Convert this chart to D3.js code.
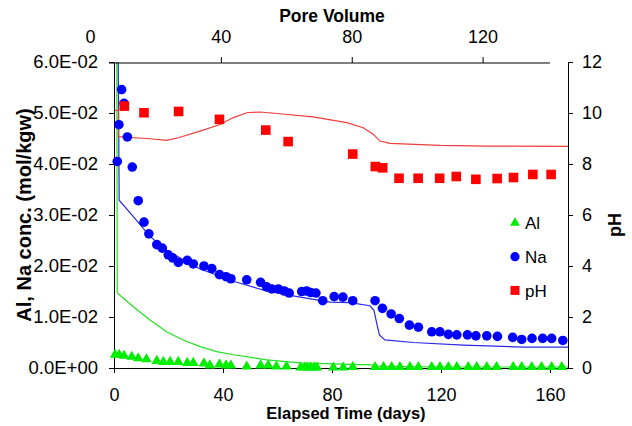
<!DOCTYPE html>
<html>
<head>
<meta charset="utf-8">
<script src="https://cdn.jsdelivr.net/npm/d3@7"></script>
<style>
  body { margin: 0; background: #fff; }
  svg { display: block; font-family: "Liberation Sans", Arial, sans-serif; }
</style>
</head>
<body>
<svg id="chart" width="632" height="426"></svg>
<script>
// measured Na (mol/kgw)
const naDays = [1.2, 1.8, 2.8, 3.7, 4.9, 6.7, 8.9, 11.0, 12.8, 15.7, 17.7, 19.9, 21.5, 23.6,
  26.9, 29.1, 33.0, 35.9, 38.7, 41.1, 42.9, 48.7, 53.8, 56.0, 57.9, 60.3, 62.5, 64.3,
  68.9, 70.7, 72.2, 74.1, 76.6, 80.8, 84.0, 87.6, 95.8, 98.5, 101.7, 104.7, 108.4, 111.7,
  116.6, 119.6, 122.7, 125.8, 129.7, 132.8, 136.8, 140.7, 146.3, 149.6, 153.4, 157.3, 160.6, 164.7];
const naConc = [0.0405, 0.0477, 0.0546, 0.0519, 0.0453, 0.0394, 0.0328, 0.0286, 0.0263, 0.0242, 0.0235, 0.0222, 0.0216, 0.0207,
  0.0211, 0.0204, 0.0200, 0.0195, 0.0183, 0.0179, 0.0175, 0.0173, 0.0168, 0.0159, 0.0155, 0.0155, 0.0151, 0.0147,
  0.0150, 0.0151, 0.0148, 0.0147, 0.0132, 0.0140, 0.0139, 0.0132, 0.0132, 0.0117, 0.0106, 0.0097, 0.0084, 0.0080,
  0.0071, 0.0071, 0.0066, 0.0065, 0.0065, 0.0063, 0.0063, 0.0062, 0.0060, 0.0056, 0.0058, 0.0058, 0.0058, 0.0054];

// measured Al (mol/kgw)
const alDays = [0.4, 1.9, 3.7, 6.5, 8.9, 11.9, 15.7, 18.1, 20.6, 23.6,
  26.9, 29.1, 33.0, 35.2, 38.7, 41.1, 42.9, 48.7, 53.8, 56.6,
  59.6, 63.3, 68.5, 69.9, 70.9, 72.2, 73.5, 74.5, 80.5, 84.1, 87.6,
  95.8, 98.9, 101.9, 104.9, 108.6, 111.7, 116.6, 119.6, 122.7, 125.8,
  130.0, 133.1, 136.8, 140.4, 146.5, 149.6, 153.3, 156.9, 160.6, 164.3];
const alConc = [0.0026, 0.0026, 0.0024, 0.0022, 0.0019, 0.0017, 0.0014, 0.0012, 0.0012, 0.0012,
  0.0010, 0.0010, 0.0009, 0.0005, 0.0007, 0.0005, 0.0005, 0.0003, 0.0005, 0.0005,
  0.0003, 0.0003, 0.0001, 0.0001, 0.0001, 0.0001, 0.0001, 0.0001, 0.0001, 0.0001, 0.0002,
  0.0002, 0.0002, 0.0002, 0.0002, 0.0002, 0.0002, 0.0002, 0.0002, 0.0002, 0.0002,
  0.0002, 0.0002, 0.0002, 0.0002, 0.0002, 0.0002, 0.0002, 0.0002, 0.0002, 0.0002];

// measured pH
const phDays = [3.8, 11.0, 23.7, 38.7, 55.7, 63.9, 87.6, 95.9, 98.6, 104.6, 111.6, 119.5, 125.6, 132.8, 140.6, 146.6, 153.7, 160.4];
const phValues = [10.27, 10.01, 10.06, 9.75, 9.33, 8.88, 8.39, 7.90, 7.85, 7.44, 7.44, 7.44, 7.51, 7.40, 7.43, 7.47, 7.59, 7.59];

// model curves
const naModelDays = [1.5, 1.9, 7.1, 13.2, 19.3, 25.4, 31.6, 43.8, 56.0, 68.3, 79.3, 86.6, 93.9, 95.4, 96.4, 97.4, 99.4, 109.8, 128.2, 150.2, 166.6];
const naModelConc = [0.065, 0.0329, 0.0297, 0.0258, 0.0231, 0.0212, 0.0194, 0.0170, 0.0151, 0.0139, 0.0129, 0.0128, 0.0122, 0.0113, 0.0088, 0.0065, 0.0055, 0.0050, 0.0045, 0.0041, 0.0041];
const alModelDays = [1.0, 1.2, 7.1, 13.2, 19.3, 25.4, 31.6, 37.7, 43.8, 56.0, 68.3, 86.6, 95.0, 97.5, 120, 166.6];
const alModelConc = [0.065, 0.0147, 0.0120, 0.0094, 0.0071, 0.0055, 0.0042, 0.0032, 0.0026, 0.0016, 0.0010, 0.0007, 0.0006, 0.0003, 0.0002, 0.0002];
const phModelDays = [0.3, 1.6, 1.6, 13.2, 19.3, 23.6, 31.6, 38.9, 43.8, 48.7, 53.6, 60.9, 73.1, 85.4, 91.5, 95.2, 97.6, 101.3, 119.6, 136.8, 166.6];
const phModelValues = [10.1, 10.1, 9.07, 8.99, 8.93, 9.03, 9.29, 9.55, 9.82, 10.01, 10.04, 9.97, 9.85, 9.62, 9.42, 9.16, 8.90, 8.81, 8.73, 8.70, 8.69];

// axis ticks
const dayTicks = [0, 40, 80, 120, 160];
const poreTicks = [0, 40, 80, 120];
const concTicks = [0, 0.01, 0.02, 0.03, 0.04, 0.05, 0.06];
const phTicks = [0, 2, 4, 6, 8, 10, 12];

const legendItems = [
  { name: "Al", shape: "triangle", color: "#00ee00" },
  { name: "Na", shape: "circle", color: "#0000ff" },
  { name: "pH", shape: "square", color: "#ff0000" },
];

const font = "Liberation Sans, Arial, sans-serif";
const plot = { left: 114, right: 568, top: 62, bottom: 368 };

const svg = d3.select("#chart");

const x = d3.scaleLinear().domain([0, 166.6]).range([plot.left, plot.right]);
const xPore = d3.scaleLinear().domain([0, 140.6]).range([90, 550]);
const y = d3.scaleLinear().domain([0, 0.06]).range([plot.bottom, plot.top]);
const yPh = d3.scaleLinear().domain([0, 12]).range([plot.bottom, plot.top]);

const sci = (d) => {
  if (d === 0) return "0.0E+00";
  const e = Math.floor(Math.log10(d) + 1e-9);
  const m = d / Math.pow(10, e);
  return m.toFixed(1) + "E" + (e < 0 ? "-" : "+") + String(Math.abs(e)).padStart(2, "0");
};

svg.append("defs").append("clipPath").attr("id", "clip")
  .append("rect")
  .attr("x", plot.left).attr("y", plot.top)
  .attr("width", plot.right - plot.left).attr("height", plot.bottom - plot.top);

// model lines
const zip = (a, b) => a.map((d, i) => [d, b[i]]);
const lines = svg.append("g").attr("clip-path", "url(#clip)").attr("fill", "none");

lines.append("path")
  .attr("d", d3.line().x((d) => x(d[0])).y((d) => y(d[1]))(zip(alModelDays, alModelConc)))
  .attr("stroke", "#22e022").attr("stroke-width", 1.2);
lines.append("path")
  .attr("d", d3.line().x((d) => x(d[0])).y((d) => y(d[1]))(zip(naModelDays, naModelConc)))
  .attr("stroke", "#2828e6").attr("stroke-width", 1.2);
lines.append("path")
  .attr("d", d3.line().x((d) => x(d[0])).y((d) => yPh(d[1]))(zip(phModelDays, phModelValues)))
  .attr("stroke", "#f03c3c").attr("stroke-width", 1.2);

// axes
const styleAxis = (g, size) => {
  g.attr("font-family", font).attr("font-size", size);
  g.selectAll("text").attr("fill", "#000");
  g.selectAll("line, path").attr("stroke", "#000");
};

svg.append("g")
  .attr("transform", `translate(${plot.left},0)`)
  .call(d3.axisLeft(y).tickValues(concTicks).tickFormat(sci).tickSize(5).tickSizeOuter(0).tickPadding(11))
  .call((g) => styleAxis(g, 18.5));

svg.append("g")
  .attr("transform", `translate(${plot.right},0)`)
  .call(d3.axisRight(yPh).tickValues(phTicks).tickFormat((d) => d).tickSize(5).tickSizeOuter(0).tickPadding(9))
  .call((g) => styleAxis(g, 18));

svg.append("g")
  .attr("transform", `translate(0,${plot.bottom})`)
  .call(d3.axisBottom(x).tickValues(dayTicks).tickSize(5).tickSizeOuter(0).tickPadding(15))
  .call((g) => styleAxis(g, 18));

svg.append("g")
  .attr("transform", `translate(0,${plot.top + 1})`)
  .call(d3.axisTop(xPore).tickValues(poreTicks).tickSize(6).tickSizeOuter(0).tickPadding(14))
  .call((g) => styleAxis(g, 18))
  .call((g) => g.select(".domain").remove())
  .call((g) => g.selectAll(".tick line").filter((d) => d === 0).remove())
  .call((g) => g.append("line")
    .attr("x1", 109).attr("x2", xPore.range()[1])
    .attr("stroke", "#000"));

// markers
svg.append("g")
  .selectAll("path")
  .data(zip(alDays, alConc))
  .join("path")
  .attr("transform", (d) => `translate(${x(d[0])},${y(d[1])})`)
  .attr("d", d3.symbol(d3.symbolTriangle, 48))
  .attr("fill", "#00ee00");

svg.append("g")
  .selectAll("circle")
  .data(zip(naDays, naConc))
  .join("circle")
  .attr("cx", (d) => x(d[0]))
  .attr("cy", (d) => y(d[1]))
  .attr("r", 4.8)
  .attr("fill", "#0000ff");

svg.append("g")
  .selectAll("rect")
  .data(zip(phDays, phValues))
  .join("rect")
  .attr("x", (d) => x(d[0]) - 4.8)
  .attr("y", (d) => yPh(d[1]) - 4.8)
  .attr("width", 9.6)
  .attr("height", 9.6)
  .attr("fill", "#ff0000");

// legend
const legend = svg.append("g").attr("transform", "translate(515,223)");
const item = legend.selectAll("g")
  .data(legendItems)
  .join("g")
  .attr("transform", (d, i) => `translate(0,${i * 33.7})`);

item.filter((d) => d.shape === "triangle").append("path")
  .attr("d", d3.symbol(d3.symbolTriangle, 42)).attr("fill", (d) => d.color);
item.filter((d) => d.shape === "circle").append("circle")
  .attr("r", 4.6).attr("fill", (d) => d.color);
item.filter((d) => d.shape === "square").append("rect")
  .attr("x", -4.5).attr("y", -4.5).attr("width", 9).attr("height", 9).attr("fill", (d) => d.color);
item.append("text")
  .attr("x", 10).attr("y", 6.3)
  .attr("font-family", font).attr("font-size", 17)
  .text((d) => d.name);

// titles
svg.append("text")
  .attr("x", 332).attr("y", 22)
  .attr("text-anchor", "middle")
  .attr("font-family", font).attr("font-size", 17.5).attr("font-weight", "bold")
  .text("Pore Volume");

svg.append("text")
  .attr("x", 346).attr("y", 419)
  .attr("text-anchor", "middle")
  .attr("font-family", font).attr("font-size", 16.5).attr("font-weight", "bold")
  .text("Elapsed Time (days)");

svg.append("text")
  .attr("transform", "translate(31,215) rotate(-90)")
  .attr("text-anchor", "middle")
  .attr("font-family", font).attr("font-size", 20).attr("font-weight", "bold")
  .text("Al, Na conc. (mol/kgw)");

svg.append("text")
  .attr("transform", "translate(621,225) rotate(-90)")
  .attr("text-anchor", "middle")
  .attr("font-family", font).attr("font-size", 18).attr("font-weight", "bold")
  .text("pH");
</script>
</body>
</html>
